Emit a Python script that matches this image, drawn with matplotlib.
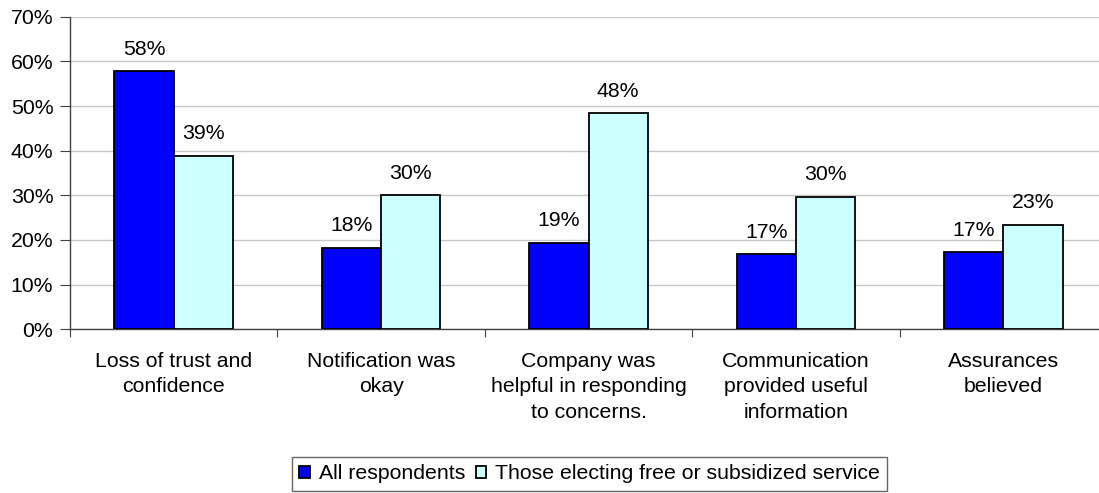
import numpy as np
import matplotlib
matplotlib.use('Agg')
import matplotlib.pyplot as plt
from matplotlib.ticker import FixedLocator, PercentFormatter

plt.rcParams['font.family'] = ['Liberation Sans', 'DejaVu Sans']

categories = ['Loss of trust and\nconfidence',
              'Notification was\nokay',
              'Company was\nhelpful in responding\nto concerns.',
              'Communication\nprovided useful\ninformation',
              'Assurances\nbelieved']
all_respondents = [57.8, 18.3, 19.4, 16.8, 17.2]
free_service = [38.9, 30.0, 48.4, 29.7, 23.4]
series_names = ['All respondents', 'Those electing free or subsidized service']

fs = 15.3
fig = plt.figure(figsize=(10.99, 4.93), dpi=100)
ax = fig.add_axes([70 / 1099, (493 - 329.3) / 493, 1037 / 1099, (329.3 - 16.7) / 493])

x = np.arange(len(categories))
w = 1 / 3.5
b1 = ax.bar(x - w / 2, all_respondents, w, color='#0000ff', edgecolor='black', linewidth=1.3, zorder=3,
            label=series_names[0])
b2 = ax.bar(x + w / 2, free_service, w, color='#ccffff', edgecolor='black', linewidth=1.3, zorder=3,
            label=series_names[1])
for c in (b1, b2):
    ax.bar_label(c, labels=[f'{v:.0f}%' for v in c.datavalues], padding=9, fontsize=fs)

ax.set_xlim(-0.5, len(categories) - 0.5)
ax.set_ylim(0, 70)
ax.set_yticks(np.arange(0, 71, 10))
ax.yaxis.set_major_formatter(PercentFormatter(decimals=0))
ax.xaxis.set_major_locator(FixedLocator(np.arange(-0.5, len(categories), 1)))
ax.xaxis.set_major_formatter(plt.NullFormatter())
ax.xaxis.set_minor_locator(FixedLocator(x))
ax.set_xticklabels(categories, minor=True, fontsize=fs, linespacing=1.45, va='top')
ax.tick_params(axis='x', which='major', direction='out', length=6, color='#404040')
ax.tick_params(axis='x', which='minor', length=0, pad=16)
ax.tick_params(axis='y', direction='out', length=7, pad=5, labelsize=fs, color='#404040')

ax.yaxis.grid(True, color='#c8c8c8', linewidth=1, zorder=0)
ax.set_axisbelow(True)
for s in ['top', 'right']:
    ax.spines[s].set_visible(False)
for s in ['left', 'bottom']:
    ax.spines[s].set_color('#404040')
    ax.spines[s].set_linewidth(1)

leg = fig.legend(handles=[b1, b2], loc='upper left', bbox_to_anchor=(292 / 1099, (493 - 457) / 493),
                 ncol=2, fontsize=fs, frameon=True, fancybox=False, handlelength=0.5, handleheight=0.5,
                 handletextpad=0.4, columnspacing=0.5, borderpad=0.35, borderaxespad=0)
leg.get_frame().set_edgecolor('#404040')
leg.get_frame().set_linewidth(1)

fig.savefig('out.png', dpi=100)
